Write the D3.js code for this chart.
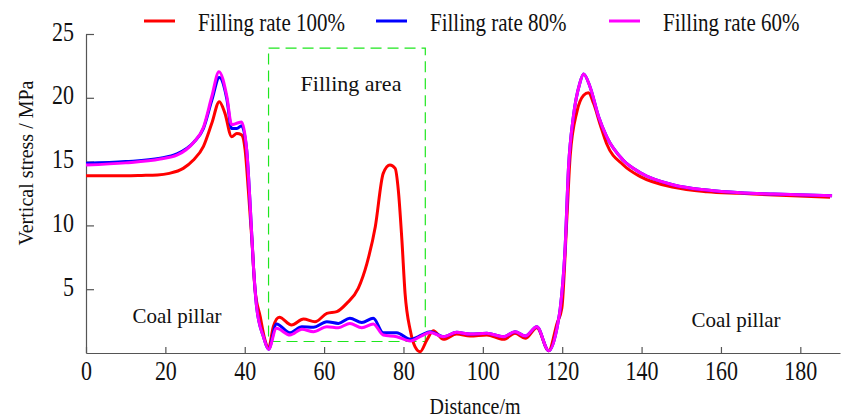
<!DOCTYPE html>
<html>
<head>
<meta charset="utf-8">
<script src="https://cdn.jsdelivr.net/npm/d3@7"></script>
<style>
  body { margin: 0; background: #fff; }
  svg text { font-family: "Liberation Serif", "Times New Roman", serif !important; fill: #111; }
</style>
</head>
<body>
<div id="chart"></div>
<script>
// distance (m) / vertical stress (MPa)
var rate100 = [[0,13.9],[5,13.9],[10,13.9],[14,13.92],[18,13.95],[21,14.08],[24.5,14.47],[27,15.1],
  [29.6,16.2],[31.7,18.0],[33.6,19.7],[35,18.8],[36.7,16.95],[38,17.2],[39.2,17.1],[40.1,15.9],
  [40.9,12.8],[41.8,8.86],[42.6,4.94],[43.9,2.85],[45.1,1.02],[46,0.37],[47.2,2.06],[48.7,2.8],
  [51.8,2.19],[54.8,2.66],[57.7,2.45],[60.7,3.1],[63.2,3.24],[65.7,3.89],[68.6,5.07],[70.8,7.03],
  [72.9,9.9],[74.9,14.08],[76.6,14.73],[77.9,14.47],[78.7,12.77],[79.6,8.86],[80.4,4.68],[81.7,1.8],
  [82.9,0.5],[84.2,0.1],[85.9,1.02],[87.5,1.75],[90.1,1.07],[93.4,1.49],[96.8,1.33],[101,1.41],
  [105.2,1.07],[108.1,1.54],[110.7,1.15],[113.6,1.98],[116.6,0.18],[118.7,2.32],[119.9,3.5],
  [121.2,10.7],[122,15.4],[123.7,18.9],[125.4,20.2],[126.6,20.4],[127.9,19.57],[129.6,17.87],
  [131.2,16.4],[135.4,14.73],[139.7,13.82],[148.1,12.98],[156.5,12.64],[164.9,12.51],[173.3,12.38],
  [187.5,12.2]];

var rate80 = [[0,14.87],[10,15.0],[18.7,15.26],[22.9,15.6],[27.1,16.5],[29.6,17.6],[31.7,19.8],
  [33.6,21.6],[35.5,19.9],[36.7,17.6],[38,17.6],[39.2,17.8],[40.5,15.9],[41.3,12],[42.2,6.77],
  [43,3.6],[44.7,1.28],[46,0.29],[48,2.27],[51.4,1.59],[54.4,2.06],[57.3,2.01],[60.7,2.45],
  [63.6,2.32],[66.5,2.72],[69.5,2.4],[72.4,2.72],[74.9,1.59],[78.3,1.59],[81.7,1.07],[84.6,1.41],
  [86.7,1.67],[90.1,1.28],[93.4,1.62],[96.8,1.49],[101,1.54],[105.2,1.28],[108.1,1.67],[110.7,1.33],
  [113.6,2.06],[116.6,0.18],[118.9,2.32],[119.5,3.5],[120.7,8.07],[121.6,14.6],[122.8,18.5],
  [124.4,21.1],[125.4,21.86],[127,20.87],[129.2,18.5],[131.2,16.95],[135.4,15.1],[139.7,14.13],
  [148.1,13.17],[156.5,12.77],[164.9,12.56],[173.3,12.46],[188,12.33]];

var rate60 = [[0,14.73],[10,14.9],[18.7,15.2],[22.9,15.5],[27.1,16.5],[29.6,17.7],[31.7,20.1],
  [33.5,22.05],[35.5,20.1],[36.7,17.9],[38,18.0],[39.2,18.1],[40.5,15.9],[41.3,12],[42.2,6.77],
  [43,3.6],[44.7,1.28],[46,0.29],[48,1.93],[51.4,1.41],[54.4,1.86],[57.3,1.67],[60.7,2.06],
  [63.6,1.98],[66.5,2.32],[69.5,1.98],[72.4,2.27],[74.9,1.41],[78.3,1.28],[81.7,0.94],[84.6,1.35],
  [86.7,1.6],[90.1,1.28],[93.4,1.62],[96.8,1.49],[101,1.54],[105.2,1.28],[108.1,1.67],[110.7,1.33],
  [113.6,2.06],[116.6,0.18],[118.9,2.32],[119.5,3.5],[120.7,8.07],[121.6,14.6],[122.8,18.5],
  [124.4,21.1],[125.4,21.86],[127,20.87],[129.2,18.5],[131.2,16.95],[135.4,15.1],[139.7,14.13],
  [148.1,13.17],[156.5,12.77],[164.9,12.56],[173.3,12.46],[188,12.33]];

var seriesNames = ["Filling rate 100%", "Filling rate 80%", "Filling rate 60%"];
var seriesColors = ["#ff0000", "#0000ff", "#ff00ff"];
var xTicks = [0, 20, 40, 60, 80, 100, 120, 140, 160, 180];
var yTicks = [5, 10, 15, 20, 25];
var fillArea = { x0: 46, x1: 85.5, y0: 0.9, y1: 23.9 };

var width = 845, height = 418;
var serif = "Liberation Serif, Times New Roman, serif";
var stretch = 1.2; // the source figure's text is a bit taller than wide

var svg = d3.select("#chart").append("svg")
    .attr("width", width)
    .attr("height", height)
    .attr("font-family", serif);

var x = d3.scaleLinear().domain([0, 190]).range([86, 840]);
var y = d3.scaleLinear().domain([0, 25]).range([353, 34]);

// axes, ticks pointing inward
var xAxis = svg.append("g")
    .attr("transform", "translate(0," + y(0) + ")")
    .call(d3.axisBottom(x).tickValues(xTicks).tickSizeInner(-6).tickSizeOuter(0))
    .attr("font-family", serif)
    .attr("font-size", 22);
xAxis.selectAll("text")
    .attr("y", 27 / stretch).attr("dy", null)
    .attr("transform", "scale(1," + stretch + ")");

var yAxis = svg.append("g")
    .attr("transform", "translate(" + x(0) + ",0)")
    .call(d3.axisLeft(y).tickValues(yTicks).tickSizeInner(-8).tickSizeOuter(0))
    .attr("font-family", serif)
    .attr("font-size", 22);
yAxis.selectAll("text")
    .attr("x", -12).attr("dy", null).attr("y", 6 / stretch)
    .attr("transform", "scale(1," + stretch + ")");

svg.selectAll(".domain, .tick line").attr("stroke", "#555").attr("stroke-width", 1.2);

// filling area box
svg.append("rect")
    .attr("x", x(fillArea.x0))
    .attr("y", y(fillArea.y1))
    .attr("width", x(fillArea.x1) - x(fillArea.x0))
    .attr("height", y(fillArea.y0) - y(fillArea.y1))
    .attr("fill", "none")
    .attr("stroke", "#1ee61e")
    .attr("stroke-width", 1.2)
    .attr("stroke-dasharray", "11,6");

var line = d3.line()
    .x(function(d) { return x(d[0]); })
    .y(function(d) { return y(d[1]); })
    .curve(d3.curveMonotoneX);

[rate100, rate80, rate60].forEach(function(data, i) {
    svg.append("path")
        .datum(data)
        .attr("fill", "none")
        .attr("stroke", seriesColors[i])
        .attr("stroke-width", 3)
        .attr("stroke-linejoin", "round")
        .attr("d", line);
});

// legend
var legendX = [144, 376, 609];
var legend = svg.selectAll(".legend")
    .data(seriesNames)
    .enter().append("g")
    .attr("transform", function(d, i) { return "translate(" + legendX[i] + ",0)"; });

legend.append("line")
    .attr("x1", 0).attr("x2", 31)
    .attr("y1", 21).attr("y2", 21)
    .attr("stroke", function(d, i) { return seriesColors[i]; })
    .attr("stroke-width", 3);

legend.append("text")
    .attr("transform", "translate(54,31) scale(1," + stretch + ")")
    .style("font-size", "21px")
    .text(function(d) { return d; });

// labels
svg.append("text")
    .attr("transform", "translate(33,163) rotate(-90)")
    .attr("text-anchor", "middle")
    .style("font-size", "20px")
    .text("Vertical stress / MPa");

svg.append("text")
    .attr("transform", "translate(475,414) scale(1," + stretch + ")")
    .attr("text-anchor", "middle")
    .style("font-size", "20px")
    .text("Distance/m");

svg.append("text")
    .attr("x", 351).attr("y", 91)
    .attr("text-anchor", "middle")
    .style("font-size", "22px")
    .text("Filling area");

svg.append("text")
    .attr("x", 177).attr("y", 323)
    .attr("text-anchor", "middle")
    .style("font-size", "21px")
    .text("Coal pillar");

svg.append("text")
    .attr("x", 736).attr("y", 327)
    .attr("text-anchor", "middle")
    .style("font-size", "21px")
    .text("Coal pillar");
</script>
</body>
</html>
